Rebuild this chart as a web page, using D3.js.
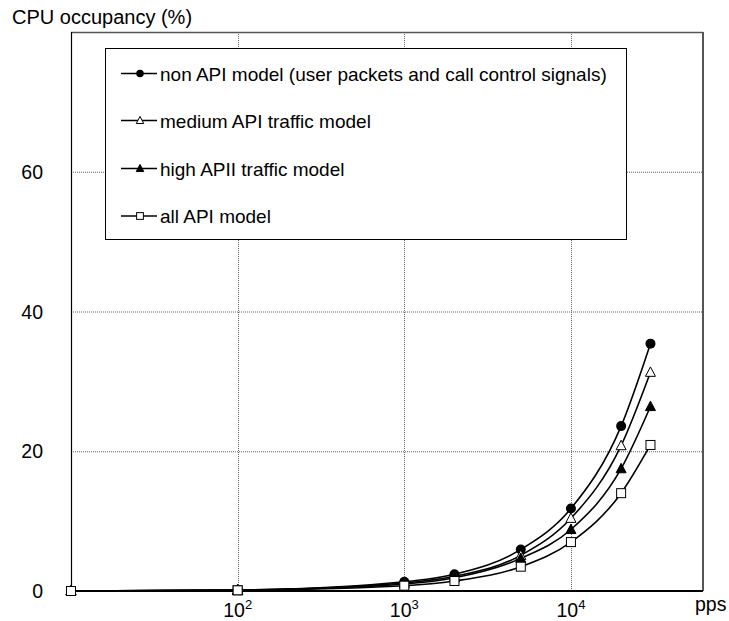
<!DOCTYPE html>
<html><head><meta charset="utf-8">
<script src="https://cdn.jsdelivr.net/npm/d3@7"></script>
<style>body{margin:0;background:#fff}svg{display:block}</style>
</head><body>
<script>
const pps = [10, 100, 1000, 2000, 5000, 10000, 20000, 30000];
const nonAPI = [0, 0.15, 1.33, 2.4, 5.95, 11.8, 23.6, 35.4];
const mediumAPI = [0, 0.13, 1.15, 2.1, 5.1, 10.4, 20.8, 31.3];
const highAPI = [0, 0.12, 1.0, 1.9, 4.67, 8.8, 17.5, 26.4];
const allAPI = [0, 0.1, 0.76, 1.43, 3.48, 7.0, 14.0, 20.9];
const seriesNames = ["non API model (user packets and call control signals)", "medium API traffic model", "high APII traffic model", "all API model"];
const seriesMarkers = ["circle", "triangleOpen", "triangleFilled", "squareOpen"];
const yTicks = [0, 20, 40, 60];
const xTickExps = [2, 3, 4];
const xDomain = [10, 62000];
const yDomain = [0, 80];

const W = 729, H = 621;
const L = 71, R = 703, T = 32, B = 591;
const font = "Liberation Sans, Arial, sans-serif";
const svg = d3.select("body").append("svg").attr("width", W).attr("height", H);
const x = d3.scaleLog().domain(xDomain).range([L, R]);
const y = d3.scaleLinear().domain(yDomain).range([B, T]);

// grid
const grid = svg.append("g").attr("stroke", "#666").attr("stroke-width", 1).attr("stroke-dasharray", "1,1");
grid.selectAll("line.h").data(yTicks.filter(d => d > 0)).join("line")
  .attr("x1", L).attr("x2", R).attr("y1", d => y(d) + 0.5).attr("y2", d => y(d) + 0.5);
grid.selectAll("line.v").data(xTickExps).join("line")
  .attr("y1", T).attr("y2", B).attr("x1", d => Math.round(x(Math.pow(10, d))) + 0.5).attr("x2", d => Math.round(x(Math.pow(10, d))) + 0.5);

// frame
svg.append("line").attr("x1", L).attr("x2", R).attr("y1", T + 0.5).attr("y2", T + 0.5).attr("stroke", "#555").attr("stroke-width", 1.3);
svg.append("line").attr("x1", R).attr("x2", R).attr("y1", T).attr("y2", B).attr("stroke", "#555").attr("stroke-width", 2);
svg.append("line").attr("x1", L + 0.5).attr("x2", L + 0.5).attr("y1", T).attr("y2", B).attr("stroke", "#000").attr("stroke-width", 1.2);

// y axis labels
svg.append("g").selectAll("text").data(yTicks).join("text")
  .attr("x", 43).attr("y", d => y(d) + 7).attr("text-anchor", "end")
  .attr("font-family", font).attr("font-size", 19.5).attr("fill", "#000").text(d => d);

// x axis labels
const xl = svg.append("g").selectAll("text").data(xTickExps).join("text")
  .attr("x", d => x(Math.pow(10, d))).attr("y", 617).attr("text-anchor", "middle")
  .attr("font-family", font).attr("font-size", 19.5).attr("fill", "#000");
xl.append("tspan").text("10");
xl.append("tspan").attr("dy", -8).attr("font-size", 13).text(d => d);
svg.append("text").attr("x", 695).attr("y", 611).attr("font-family", font).attr("font-size", 19.5).text("pps");

// title
svg.append("text").attr("x", 12).attr("y", 23.5).attr("font-family", font).attr("font-size", 20).text("CPU occupancy (%)");

// series
const allSeries = [nonAPI, mediumAPI, highAPI, allAPI];
const line = d3.line().x(d => x(d[0])).y(d => y(d[1])).curve(d3.curveMonotoneX);
allSeries.forEach(vals => {
  svg.append("path").datum(pps.map((p, i) => [p, vals[i]])).attr("d", line)
    .attr("fill", "none").attr("stroke", "#000").attr("stroke-width", 1.6);
});

function marker(g, type, cx, cy, s) {
  if (type === "circle") {
    g.append("circle").attr("cx", cx).attr("cy", cy).attr("r", s * 0.5).attr("fill", "#000");
  } else if (type === "triangleOpen" || type === "triangleFilled") {
    const h = s * 0.9, w = s * 0.5;
    g.append("path").attr("d", `M${cx},${cy - h * 0.6}L${cx + w},${cy + h * 0.45}L${cx - w},${cy + h * 0.45}Z`)
      .attr("fill", type === "triangleOpen" ? "#fff" : "#000").attr("stroke", "#000").attr("stroke-width", 1);
  } else {
    g.append("rect").attr("x", cx - s * 0.45).attr("y", cy - s * 0.45).attr("width", s * 0.9).attr("height", s * 0.9)
      .attr("fill", "#fff").attr("stroke", "#000").attr("stroke-width", 1);
  }
}
const mg = svg.append("g");
allSeries.forEach((vals, si) => {
  pps.forEach((p, i) => marker(mg, seriesMarkers[si], x(p), y(vals[i]), 10));
});

// bottom axis line
svg.append("line").attr("x1", L).attr("x2", R).attr("y1", B).attr("y2", B).attr("stroke", "#000").attr("stroke-width", 2);
// redraw markers at baseline on top of axis
const mg2 = svg.append("g");
allSeries.forEach((vals, si) => {
  pps.forEach((p, i) => { if (vals[i] < 0.3) marker(mg2, seriesMarkers[si], x(p), y(vals[i]), 10); });
});

// legend
const lg = svg.append("g");
lg.append("rect").attr("x", 105.5).attr("y", 48.5).attr("width", 521).attr("height", 191)
  .attr("fill", "#fff").attr("stroke", "#000").attr("stroke-width", 1);
const rowY = [73.5, 120.5, 168.5, 216];
seriesNames.forEach((name, i) => {
  const cy = rowY[i];
  lg.append("line").attr("x1", 121).attr("x2", 157).attr("y1", cy).attr("y2", cy).attr("stroke", "#000").attr("stroke-width", 1.6);
  marker(lg, seriesMarkers[i], 140, cy, 7.5);
  lg.append("text").attr("x", 160).attr("y", cy + 7).attr("font-family", font).attr("font-size", 19).text(name);
});
</script>
</body></html>
